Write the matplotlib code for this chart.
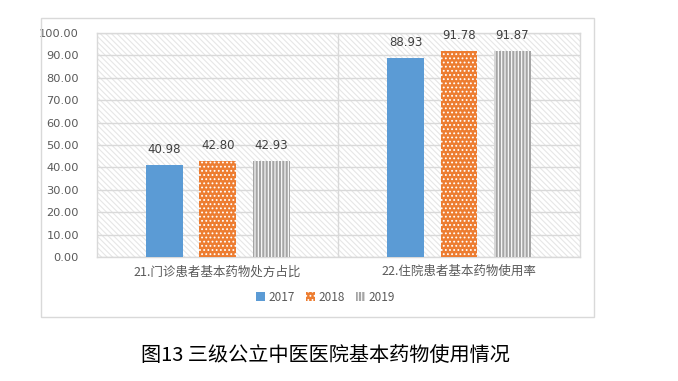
import matplotlib
matplotlib.use("Agg")
import matplotlib.pyplot as plt
import numpy as np
from matplotlib.patches import Rectangle, Patch

plt.rcParams['font.family'] = ['Noto Sans CJK SC', 'DejaVu Sans']
plt.rcParams['hatch.linewidth'] = 0.8

# 数据
categories = ["21.门诊患者基本药物处方占比", "22.住院患者基本药物使用率"]
years = ["2017", "2018", "2019"]
values_2017 = [40.98, 88.93]
values_2018 = [42.80, 91.78]
values_2019 = [42.93, 91.87]
title = "图13 三级公立中医医院基本药物使用情况"

series = [values_2017, values_2018, values_2019]
colors = ["#5B9BD5", "#ED7D31", "#A5A5A5"]

fig = plt.figure(figsize=(6.78, 3.81), dpi=100)
ax = fig.add_axes([0.143, 0.3255, 0.712, 0.588])

# 外框
fig.patches.append(Rectangle((0.0605, 0.168), 0.8156, 0.785, transform=fig.transFigure,
                             fill=False, edgecolor="#D9D9D9", linewidth=1.0))

# 背景斜线
bg = Rectangle((0, 0), 1, 1, transform=ax.transAxes, facecolor="white",
               edgecolor="#E6E6E6", hatch="\\\\\\\\\\\\", linewidth=0, zorder=0)
ax.add_patch(bg)

x = np.arange(len(categories))
offsets = [-0.2215, 0, 0.2215]
width = 0.153

for i, vals in enumerate(series):
    if i == 0:
        ax.bar(x + offsets[i], vals, width, color=colors[i], zorder=3, linewidth=0)
    elif i == 1:
        ax.bar(x + offsets[i], vals, width, facecolor=colors[i], edgecolor="white",
               hatch="....", linewidth=0, zorder=3)
    else:
        ax.bar(x + offsets[i], vals, width, facecolor=colors[i], edgecolor="white",
               hatch="|||||", linewidth=0, zorder=3)
    for xi, v in zip(x + offsets[i], vals):
        ax.text(xi, v + 4, f"{v:.2f}", ha="center", va="bottom", fontsize=8.5,
                color="#404040", family="DejaVu Sans")

ax.set_xlim(-0.5, 1.5)
ax.set_ylim(0, 100)
ax.set_yticks(np.arange(0, 101, 10))
ax.set_yticklabels([f"{v:.2f}" for v in np.arange(0, 101, 10)], family="DejaVu Sans")
ax.set_xticks(x)
ax.set_xticklabels(categories)
ax.tick_params(axis="y", length=0, pad=13, labelsize=8.2, labelcolor="#595959")
ax.tick_params(axis="x", length=0, pad=6, labelsize=9, labelcolor="#595959")
ax.grid(axis="y", color="#D9D9D9", linewidth=1.0, zorder=1)
ax.axvline(0.5, color="#D9D9D9", linewidth=1.0, zorder=1)
ax.set_axisbelow(True)
for s in ax.spines.values():
    s.set_color("#D9D9D9")
    s.set_linewidth(1.0)

handles = [Patch(facecolor=colors[0], linewidth=0),
           Patch(facecolor=colors[1], edgecolor="white", hatch="....", linewidth=0),
           Patch(facecolor=colors[2], edgecolor="white", hatch="|||||", linewidth=0)]
fig.legend(handles, years, loc="center", bbox_to_anchor=(0.48, 0.22), ncol=3, frameon=False,
           fontsize=8.5, handlelength=0.7, handleheight=0.7, handletextpad=0.3,
           columnspacing=1.0, labelcolor="#595959")

fig.text(0.48, 0.068, title, ha="center", va="center", fontsize=14.5, color="#000000")

fig.savefig("out.png", dpi=100)
